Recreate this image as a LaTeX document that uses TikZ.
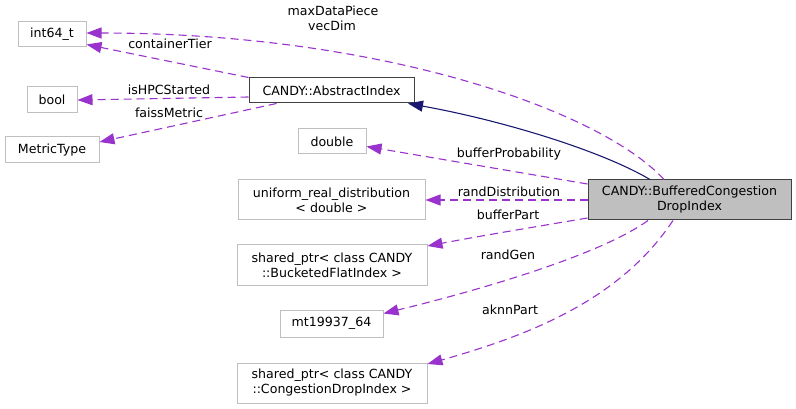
\documentclass[tikz,border=0pt]{standalone}
\usepackage{fontspec}
\setmainfont{DejaVu Sans}
\definecolor{member}{RGB}{154,50,205}
\definecolor{derive}{RGB}{25,25,112}
\definecolor{frame}{RGB}{191,191,191}
\definecolor{focus}{RGB}{64,64,64}
\usetikzlibrary{arrows.meta}

\begin{document}
\begin{tikzpicture}[x=1pt, y=-1pt, font=\fontsize{12.6}{15}\selectfont,
  cls/.style={draw=frame, line width=1pt, inner sep=0pt, align=center, minimum height=25pt},
  ref/.style={member, line width=1.1pt, dash pattern=on 8pt off 5pt, -{Triangle[length=15pt, width=11pt]}},
  base/.style={derive, line width=1.1pt, -{Triangle[length=15pt, width=11pt]}},
  lbl/.style={inner sep=0pt}]
  \useasboundingbox (0,0) rectangle (796,409);
  \node[cls, minimum width=68pt] (int64) at (52,34.5) {int64\_t};
  \node[cls, minimum width=50pt, minimum height=26pt] (bool) at (52,100) {bool};
  \node[cls, minimum width=94pt, minimum height=26pt] (metric) at (52,150) {MetricType};
  \node[cls, draw=focus, minimum width=165pt] (abstract) at (331.5,90.5) {CANDY::AbstractIndex};
  \node[cls, minimum width=68pt] (double) at (332,141.5) {double};
  \node[cls, minimum width=187pt, minimum height=40pt] (uniform) at (331.5,200) {uniform\_real\_distribution\\< double >};
  \node[cls, minimum width=190pt, minimum height=40pt] (bucketed) at (332,265) {shared\_ptr< class CANDY\\::BucketedFlatIndex >};
  \node[cls, minimum width=103pt, minimum height=27pt] (mt) at (331.5,323.5) {mt19937\_64};
  \node[cls, minimum width=190pt, minimum height=40pt] (congestion) at (332,383) {shared\_ptr< class CANDY\\::CongestionDropIndex >};
  \node[cls, draw=focus, fill=frame, minimum width=203pt, minimum height=40pt] (buffered) at (689.5,200) {CANDY::BufferedCongestion\\DropIndex};

  \draw[ref] ([xshift=-25.5pt]buffered.north) .. controls (600,110) and (380,33) .. ([yshift=1.5pt]int64.east);
  \draw[base] ([xshift=-39.5pt]buffered.north) .. controls (600,150) and (500,120) .. ([xshift=76.5pt]abstract.south);
  \draw[ref] (abstract.north west) -- ([yshift=3pt]int64.south east);
  \draw[ref] ([yshift=-6.5pt]abstract.west) -- (bool.east);
  \draw[ref] ([xshift=-55pt]abstract.south) -- ([yshift=8pt]metric.east);
  \draw[ref] ([yshift=16pt]buffered.west) -- ([yshift=-5pt]double.east);
  \draw[ref] (buffered.west) -- (uniform.east);
  \draw[ref] ([yshift=-18pt]buffered.west) .. controls (540,226) and (480,236) .. ([yshift=19pt]bucketed.east);
  \draw[ref] ([xshift=-41.5pt]buffered.south) .. controls (600,255) and (480,290) .. ([yshift=10pt]mt.east);
  \draw[ref] ([xshift=-16.5pt]buffered.south) .. controls (620,300) and (530,335) .. ([yshift=19pt]congestion.east);

  \node[lbl] (lmax) at (333,11) {maxDataPiece};
  \node[lbl] (lvec) at (332,26) {vecDim};
  \node[lbl] (lcont) at (170,44) {containerTier};
  \node[lbl] (lhpc) at (169,90) {isHPCStarted};
  \node[lbl] (lfaiss) at (169,113) {faissMetric};
  \node[lbl] (lprob) at (509,154) {bufferProbability};
  \node[lbl] (ldist) at (509,192) {randDistribution};
  \node[lbl] (lpart) at (508,215) {bufferPart};
  \node[lbl] (lgen) at (508,255) {randGen};
  \node[lbl] (laknn) at (510,310) {aknnPart};
\end{tikzpicture}
\end{document}
